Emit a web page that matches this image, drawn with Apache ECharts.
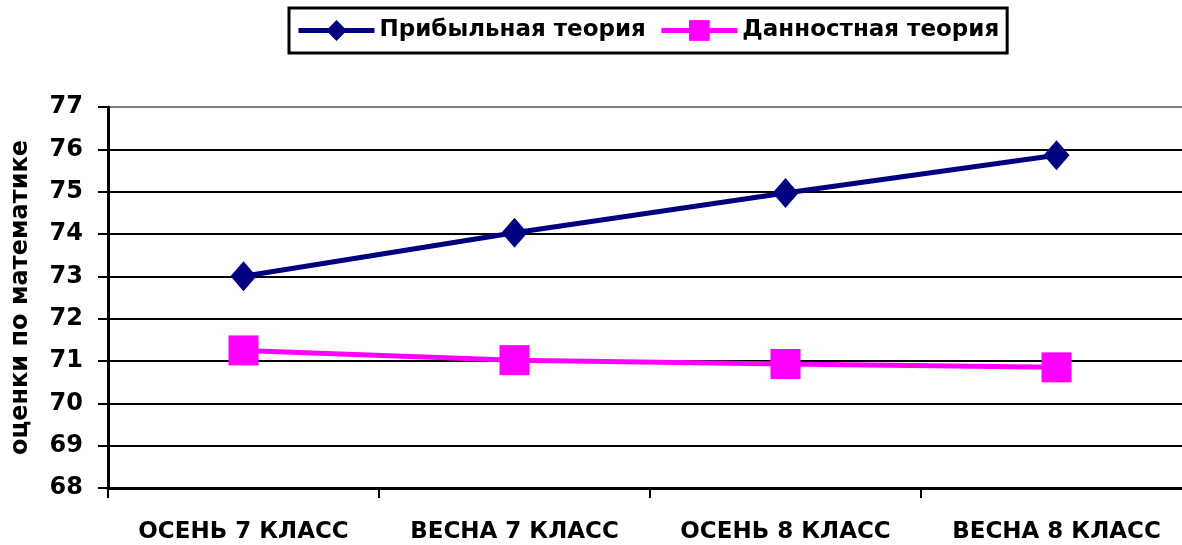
<!DOCTYPE html>
<html>
<head>
<meta charset="utf-8">
<script src="https://cdn.jsdelivr.net/npm/echarts@6/dist/echarts.min.js"></script>
<style>
  html, body { margin: 0; padding: 0; background: #fff; }
  #chart { width: 1182px; height: 545px; }
</style>
</head>
<body>
<div id="chart"></div>
<script>
// categories and values
const categories = ['ОСЕНЬ 7 КЛАСС', 'ВЕСНА 7 КЛАСС', 'ОСЕНЬ 8 КЛАСС', 'ВЕСНА 8 КЛАСС'];
const profitTheory = [73.0, 74.03, 74.97, 75.86];
const givenTheory = [71.25, 71.02, 70.93, 70.85];
const seriesNames = ['Прибыльная теория', 'Данностная теория'];
const yAxisTitle = 'оценки по математике';

const font = 'DejaVu Sans';

const chart = echarts.init(document.getElementById('chart'));

// top grid line (77) is grey, the rest black
const gridColors = ['#000', '#000', '#000', '#000', '#000', '#000', '#000', '#000', '#000', '#808080'];

chart.setOption({
  animation: false,
  backgroundColor: '#fff',
  legend: {
    left: 289,
    top: 8,
    padding: [11, 8, 11, 7],
    itemGap: 13,
    itemWidth: 76,
    itemHeight: 26,
    borderColor: '#000',
    borderWidth: 3,
    lineStyle: { width: 5 },
    textStyle: { fontFamily: font, fontSize: 23, fontWeight: 'bold', color: '#000' },
    data: seriesNames
  },
  grid: {
    left: 108,
    top: 107,
    right: -10,
    bottom: 57,
    outerBoundsMode: 'none',
    containLabel: false
  },
  xAxis: {
    type: 'category',
    data: categories,
    boundaryGap: true,
    axisLine: { lineStyle: { color: '#000', width: 3 } },
    axisTick: { show: true, alignWithLabel: false, length: 10, lineStyle: { color: '#000', width: 2 } },
    axisLabel: { interval: 0, fontFamily: font, fontSize: 23, fontWeight: 'bold', color: '#000', margin: 33 }
  },
  yAxis: {
    type: 'value',
    min: 68,
    max: 77,
    interval: 1,
    name: yAxisTitle,
    nameLocation: 'middle',
    nameRotate: 90,
    nameGap: 75,
    nameTextStyle: { fontFamily: font, fontSize: 24, fontWeight: 'bold', color: '#000' },
    axisLine: { show: true, lineStyle: { color: '#000', width: 3 } },
    axisTick: { show: true, length: 10, lineStyle: { color: '#000', width: 2 } },
    axisLabel: { fontFamily: font, fontSize: 24, fontWeight: 'bold', color: '#000', margin: 25 },
    splitLine: { show: true, lineStyle: { color: gridColors, width: 2 } }
  },
  series: [
    {
      name: seriesNames[0],
      type: 'line',
      data: profitTheory,
      symbol: 'diamond',
      symbolSize: [26, 30],
      lineStyle: { color: '#000080', width: 5 },
      itemStyle: { color: '#000080' }
    },
    {
      name: seriesNames[1],
      type: 'line',
      data: givenTheory,
      symbol: 'rect',
      symbolSize: 30,
      lineStyle: { color: '#ff00ff', width: 5 },
      itemStyle: { color: '#ff00ff' }
    }
  ]
});
</script>
</body>
</html>
